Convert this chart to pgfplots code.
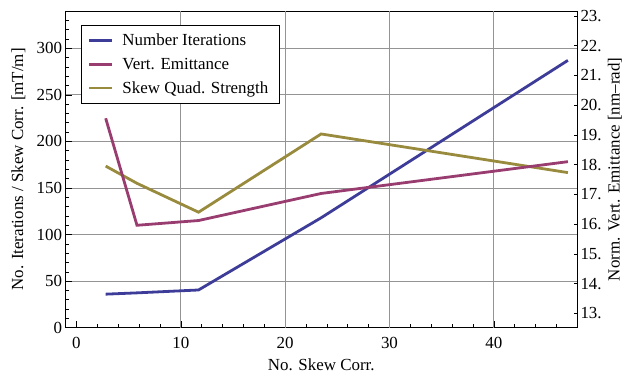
\documentclass[border=0pt]{standalone}
\usepackage{pgfplots}
\pgfplotsset{compat=1.18}
\usepackage{fontspec}
\setmainfont{Liberation Serif}
\definecolor{cblue}{rgb}{0.24,0.24,0.6}
\definecolor{cpurp}{rgb}{0.6,0.24,0.442}
\definecolor{cyell}{rgb}{0.6,0.547,0.24}
\definecolor{cgrid}{rgb}{0.58,0.58,0.58}
\newcommand{\fs}{\fontsize{17}{20}\selectfont}
\begin{document}
\begin{tikzpicture}
\useasboundingbox (-65.3bp,-49.3bp) rectangle (563.7bp,327.7bp);
\pgfplotsset{
  common/.style={
    at={(0,0)}, anchor=south west,
    scale only axis, width=512bp, height=316.7bp,
    xmin=-1.07, xmax=48,
    /pgf/number format/assume math mode=true,
    tick label style={font=\fs, text=black},
    tick align=inside,
    axis line style={line width=0.8bp},
    every tick/.style={black, line width=0.6bp},
  },
  mylegend/.style={legend image code/.code={\draw[##1, line width=2.4bp] (0bp,0bp) -- (23bp,0bp);}},
}
\begin{axis}[common,
  ymin=0, ymax=340,
  xtick={0,10,...,40}, minor xtick={0,2,...,48},
  ytick={0,50,...,300}, minor ytick={0,10,...,340},
  xtick pos=bottom, ytick pos=left,
  major tick length=6.3bp, minor tick length=3.5bp,
  ymajorgrids=true,
  extra x ticks={10,20,30,40}, extra x tick labels={},
  extra x tick style={xmajorgrids=true, major tick length=0bp},
  major grid style={cgrid, line width=0.8bp},
  yticklabel style={inner xsep=3bp},
  xticklabel style={inner ysep=0bp, yshift=-9bp},
  xlabel={No. Skew Corr.},
  ylabel={No. Iterations / Skew Corr. [mT/m]},
  every axis x label/.style={at={([yshift=-37.3bp]rel axis cs:0.5,0)}, anchor=center, font=\fs},
  every axis y label/.style={at={([xshift=-47bp]rel axis cs:0,0.5)}, anchor=center, rotate=90, font=\fs},
  legend style={at={(0.030,0.9558)}, anchor=north west, draw=black, line width=0.8bp,
    fill=white, font=\fs, inner xsep=7bp, inner ysep=6.6bp, row sep=6.8bp, column sep=4.5bp,
    nodes={inner xsep=4.5bp}},
  legend cell align=left,
]
\addplot[cblue, line width=2.8bp, mylegend] coordinates {(2.8,36) (5.8,37.4) (11.7,40.5) (23.45,118) (47.1,287)};
\addlegendentry{Number Iterations}
\addlegendimage{cpurp, mylegend}
\addlegendentry{Vert. Emittance}
\addplot[cyell, line width=2.8bp, mylegend] coordinates {(2.8,173.5) (5.8,155) (11.7,124) (23.45,208) (47.1,166.5)};
\addlegendentry{Skew Quad. Strength}
\end{axis}
\begin{axis}[common,
  ymin=12.515, ymax=23.168,
  axis x line=none, axis y line*=right,
  ytick={13,14,...,23},
  yticklabels={13.,14.,15.,16.,17.,18.,19.,20.,21.,22.,23.},
  major tick length=3.5bp,
  yticklabel style={inner xsep=3bp, anchor=west},
  ylabel={Norm. Vert. Emittance [nm–rad]},
  every axis y label/.style={at={([xshift=37.7bp]rel axis cs:1,0.5)}, anchor=center, rotate=90, font=\fs},
]
\addplot[cpurp, line width=2.8bp] coordinates {(2.8,19.56) (5.8,15.96) (11.7,16.12) (23.45,17.03) (47.1,18.1)};
\end{axis}
\end{tikzpicture}
\end{document}
